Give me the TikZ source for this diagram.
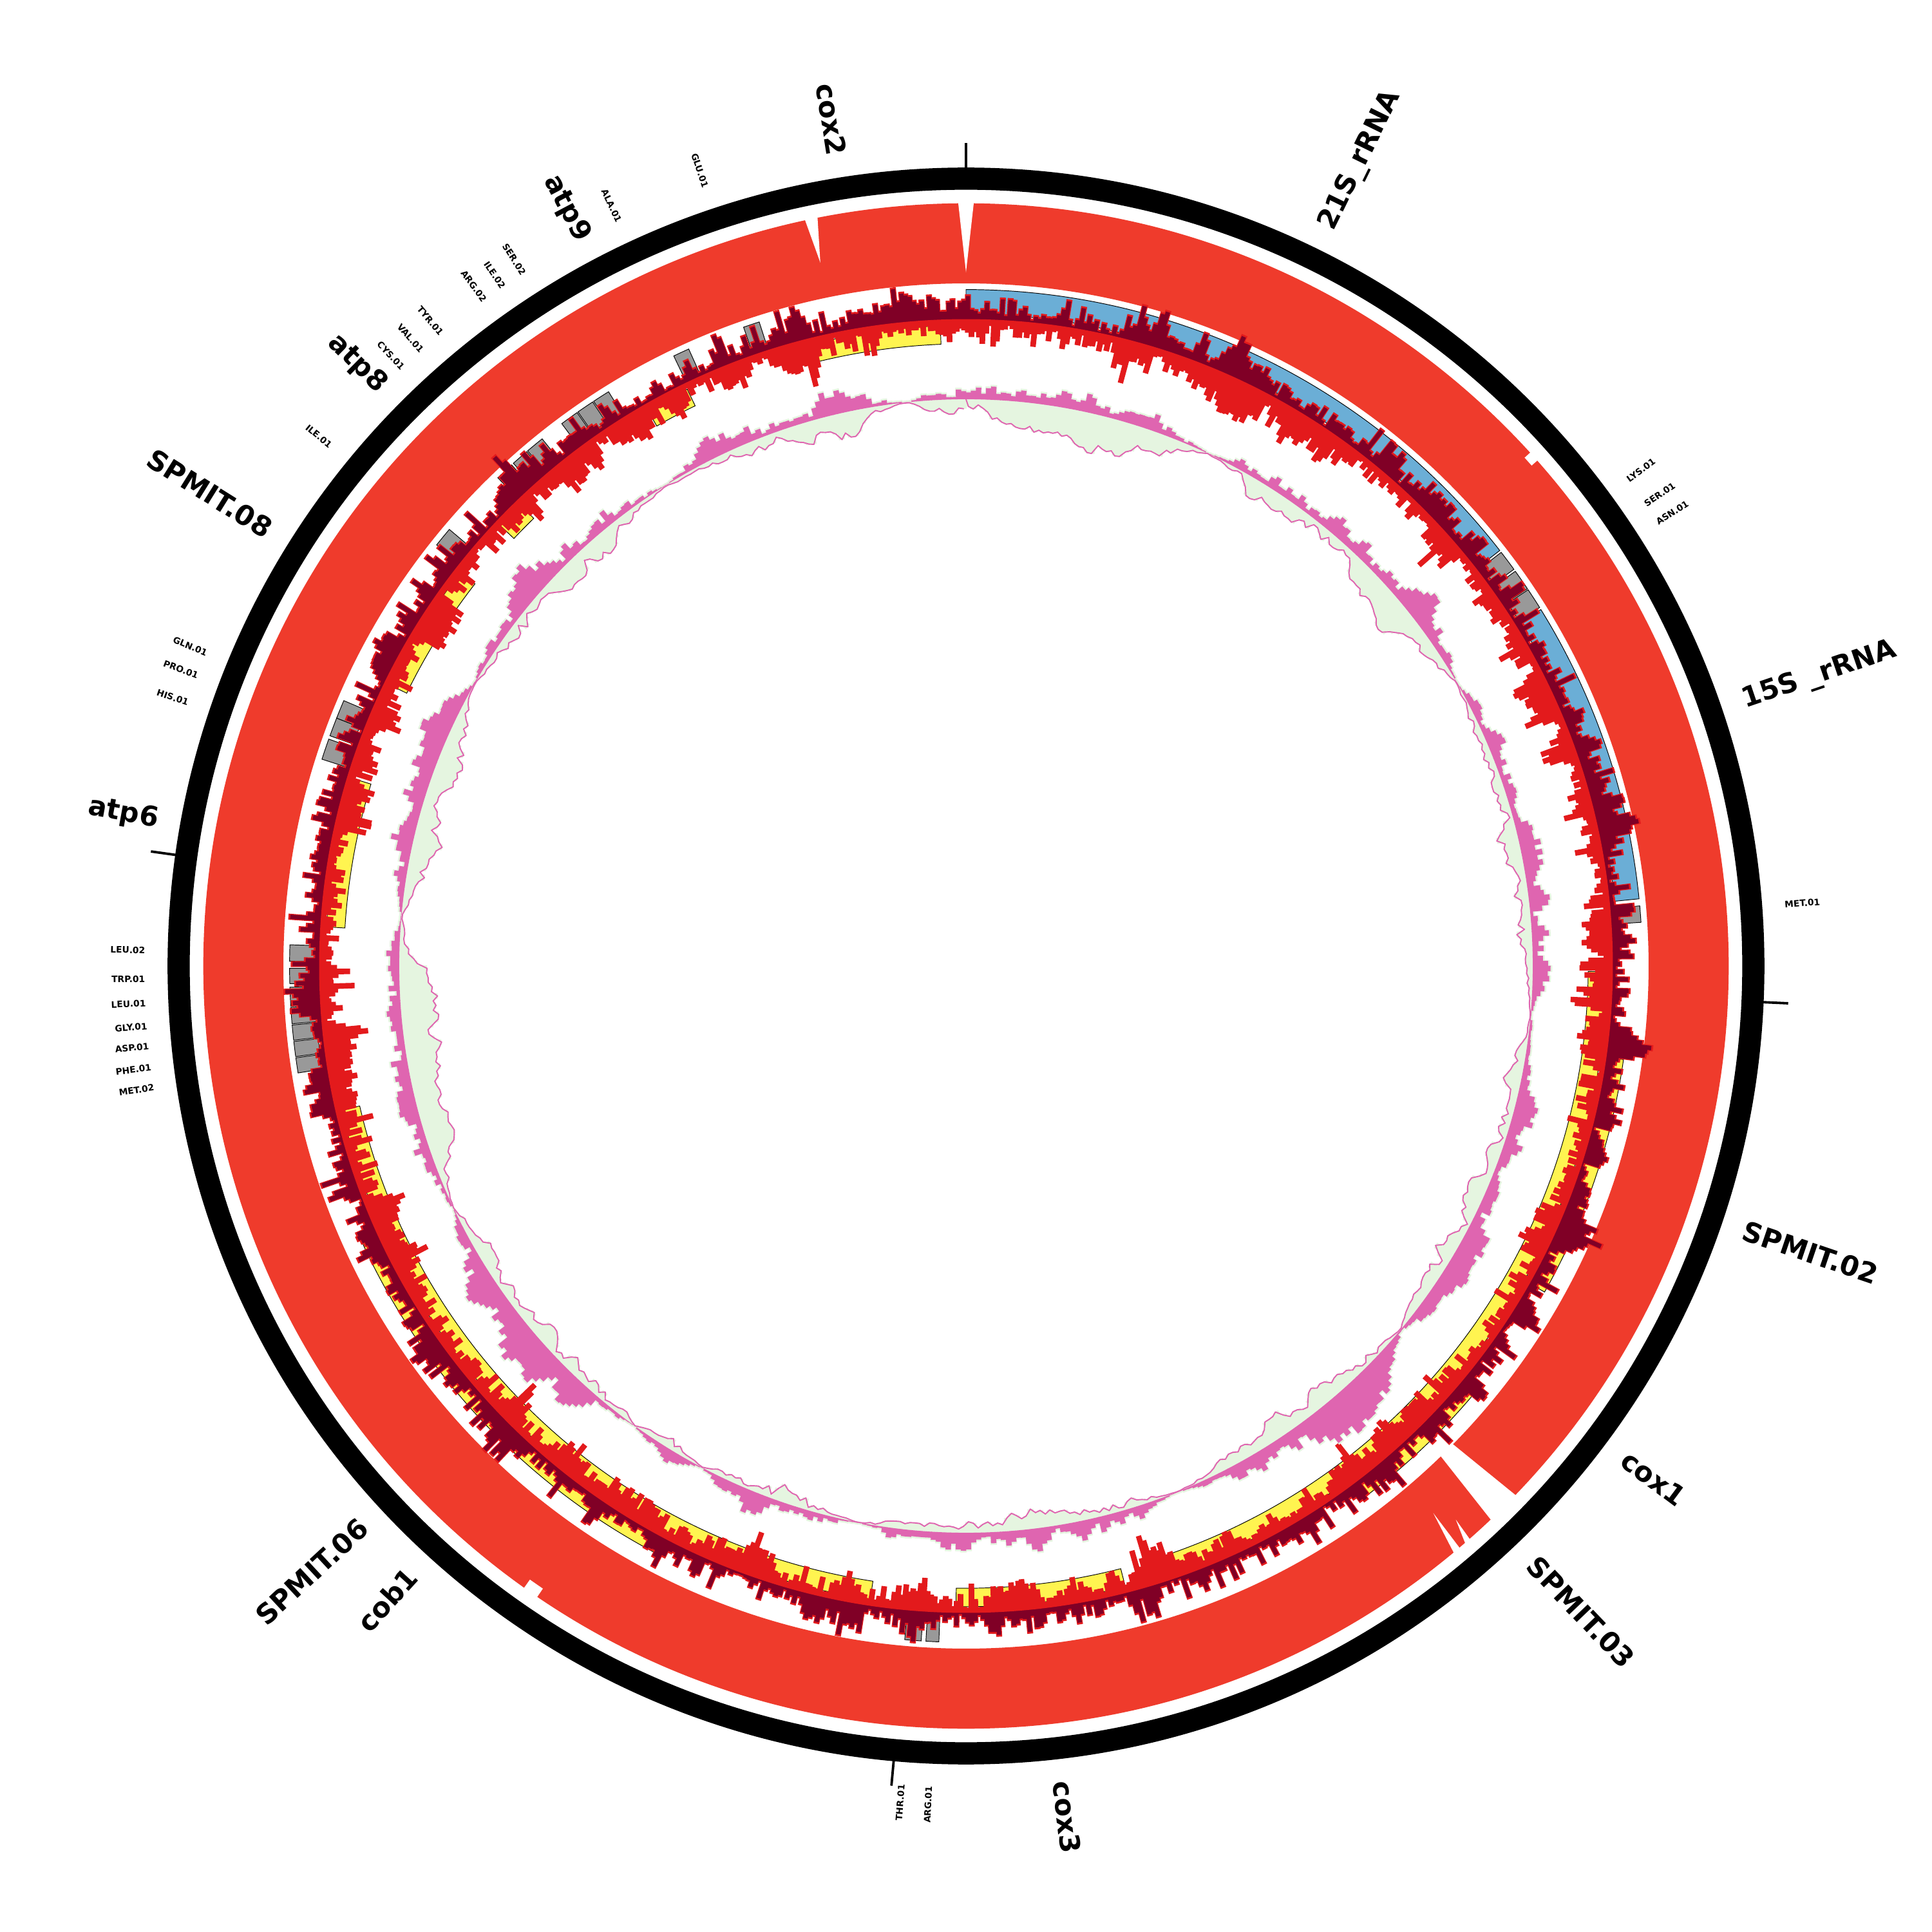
\documentclass[tikz,border=0pt]{standalone}
\usepackage{fontspec}
\setmainfont{DejaVu Sans}
\usetikzlibrary{positioning}
\definecolor{bandred}{HTML}{EF3B2C}
\definecolor{histred}{HTML}{E31A1C}
\definecolor{histdark}{HTML}{800026}
\definecolor{rrnablue}{HTML}{6BAED6}
\definecolor{cdsyellow}{HTML}{FFF450}
\definecolor{trnagray}{HTML}{999999}
\definecolor{skewpink}{HTML}{DF65B0}
\definecolor{skewgreen}{HTML}{E5F5E0}
\tikzset{
  genelabel/.style={font=\fontsize{11.2}{13}\selectfont\bfseries, inner sep=0pt},
  trnalabel/.style={font=\fontsize{3.6}{4.2}\selectfont\bfseries, inner sep=0pt},
  tilebox/.style={draw=black, line width=0.25pt},
  ticktick/.style={line width=1pt},
  skewline/.style={skewpink, line width=0.5pt, line cap=round},
}
% tile between two angles on one ring
\newcommand{\tile}[5]{%
  \filldraw[tilebox, fill=#5] (#1:#3) arc[start angle=#1, end angle=#2, radius=#3]
    -- (#2:#4) arc[start angle=#2, end angle=#1, radius=#4] -- cycle;}
% labels outside the ideogram: right half reads outward, left half inward
\newcommand{\rlab}[4]{\node[#1, anchor=west, rotate=#2] (#3) at (#2:666) {#4};}
\newcommand{\llab}[4]{\node[#1, anchor=east, rotate=#2+180] (#3) at (#2:666) {#4};}
\begin{document}
\begin{tikzpicture}[x=0.5pt, y=0.5pt]
\fill[white] (-784,-784) rectangle (784,784);
\useasboundingbox (-784,-784) rectangle (784,784);

% ideogram and ticks
\fill[black, even odd rule] (0,0) circle[radius=648] (0,0) circle[radius=630];
\foreach \a in {90,-2.6,172,-95.2}
  \draw[ticktick] (\a:647) -- (\a:668);

% outer coverage band
\fill[bandred, even odd rule] (0,0) circle[radius=619] (0,0) circle[radius=554];
\fill[white] (102.2:621) -- (101.2:621) -- (101.7:583) -- cycle;
\fill[white] (90.6:621) -- (89.4:621) -- (90:563) -- cycle;
\fill[white] (42.3:621) -- (41.5:621) -- (41.5:613) -- (42.3:613) -- cycle;
\fill[white] (-44.5:552) -- (-43.9:621) -- (-46.55:621) -- (-45.9:552) -- cycle;
\fill[white] (-48.7:621) -- (-49.2:621) -- (-48.5:600) -- cycle;
\fill[white] (-49.7:621) -- (-50.3:621) -- (-49.5:584) -- cycle;
\fill[white] (235.8:621) -- (234.6:621) -- (234.6:611) -- (235.8:611) -- cycle;

% rRNA and tRNA tiles
\tile{37.9}{90}{529}{549}{rrnablue}
\tile{5.7}{31.8}{529}{549}{rrnablue}
\foreach \a/\b in {35.9/37.7, 33.9/35.7, 32.0/33.8, 3.7/5.1, 264.8/266.2,
    266.6/267.7, 178.2/179.6, 180.2/181.5, 181.8/183.4, 183.5/184.9,
    185.0/186.3, 186.4/187.7, 187.8/189.1, 160.4/162.2, 158.5/160.1,
    156.9/158.5, 139.8/141.5, 132.2/133.8, 130.5/132.0, 128.8/130.4,
    125.1/126.7, 123.5/125.0, 121.9/123.4, 114.2/115.6, 107.8/109.2}
  {\tile{\a}{\b}{529}{549}{trnagray}}
% coding genes, two layers
\foreach \a/\b in {92.3/105.8, 115.8/119.8, 134.0/136.6, 142.1/154.0,
    163.0/176.5, 193.0/261.4, 269.1/284.4, -72.9/-0.5}
  {\tile{\a}{\b}{505}{520}{cdsyellow}}
\foreach \a/\b in {204/242, -53.4/-39, -29.4/-8.1}
  {\tile{\a}{\b}{524}{539}{cdsyellow}}

% coverage histograms: rim and inward part first
\pgfmathsetseed{4711}
\xdef\walkA{0}\xdef\walkB{0}
\foreach \i in {0,...,1079}{
  \pgfmathsetmacro\angS{90.09-\i/3}
  \pgfmathsetmacro\angE{89.577-\i/3}
  \pgfmathparse{0.9*\walkA+3.6*rand}\xdef\walkA{\pgfmathresult}
  \pgfmathparse{0.9*\walkB+3.6*rand}\xdef\walkB{\pgfmathresult}
  \pgfmathsetmacro\rA{527.5+2.3*abs(\walkA)+13*rnd^5}
  \pgfmathsetmacro\rB{521-2.2*abs(\walkB)-13*rnd^5}
  \fill[histred] (\angS:523) -- (\angS:\rA) -- (\angE:\rA) -- (\angE:523) -- cycle;
  \fill[histred] (\angS:523) -- (\angS:\rB) -- (\angE:\rB) -- (\angE:523) -- cycle;
}
% same walk again for the dark outward part
\pgfmathsetseed{4711}
\xdef\walkA{0}\xdef\walkB{0}
\foreach \i in {0,...,1079}{
  \pgfmathsetmacro\angS{90.02-\i/3}
  \pgfmathsetmacro\angE{89.647-\i/3}
  \pgfmathparse{0.9*\walkA+3.6*rand}\xdef\walkA{\pgfmathresult}
  \pgfmathparse{0.9*\walkB+3.6*rand}\xdef\walkB{\pgfmathresult}
  \pgfmathsetmacro\rA{526+2.3*abs(\walkA)+13*rnd^5}
  \pgfmathsetmacro\rB{rnd}
  \fill[histdark] (\angS:523) -- (\angS:\rA) -- (\angE:\rA) -- (\angE:523) -- cycle;
}
\fill[histred, even odd rule] (0,0) circle[radius=525] (0,0) circle[radius=521];

% skew track: green rim and inward fill
\pgfmathsetseed{271}
\xdef\walkP{0}\xdef\walkG{0}
\foreach \i in {0,...,719}{
  \pgfmathsetmacro\angM{89.75-0.5*\i}
  \pgfmathsetmacro\angS{\angM+0.32}
  \pgfmathsetmacro\angE{\angM-0.32}
  \pgfmathparse{0.94*\walkP+2.2*rand}\xdef\walkP{\pgfmathresult}
  \pgfmathparse{0.94*\walkG+2.2*rand}\xdef\walkG{\pgfmathresult}
  \pgfmathsetmacro\env{min(1,min(abs(\angM-64.7),abs(\angM-30),abs(\angM+5),abs(\angM+40),abs(\angM+68),abs(\angM+101),abs(\angM+117.9),abs(\angM+125.8),abs(\angM+154.7),abs(\angM+185),abs(\angM+210),abs(\angM+238),abs(\angM+264))/6)}
  \pgfmathsetmacro\rP{461.4+\env*(2+2.7*abs(\walkP)+3*rnd)}
  \pgfmathsetmacro\rG{460-\env*(2+2.3*abs(\walkG)+3*rnd)}
  \fill[skewgreen] (\angS:460) -- (\angS:\rP) -- (\angE:\rP) -- (\angE:460) -- cycle;
  \fill[skewgreen] (\angS:460) -- (\angS:\rG) -- (\angE:\rG) -- (\angE:460) -- cycle;
}
% pink fill and line
\pgfmathsetseed{271}
\xdef\walkP{0}\xdef\walkG{0}
\xdef\prevA{90}\xdef\prevR{460}
\foreach \i in {0,...,719}{
  \pgfmathsetmacro\angM{89.75-0.5*\i}
  \pgfmathsetmacro\angS{\angM+0.27}
  \pgfmathsetmacro\angE{\angM-0.27}
  \pgfmathparse{0.94*\walkP+2.2*rand}\xdef\walkP{\pgfmathresult}
  \pgfmathparse{0.94*\walkG+2.2*rand}\xdef\walkG{\pgfmathresult}
  \pgfmathsetmacro\env{min(1,min(abs(\angM-64.7),abs(\angM-30),abs(\angM+5),abs(\angM+40),abs(\angM+68),abs(\angM+101),abs(\angM+117.9),abs(\angM+125.8),abs(\angM+154.7),abs(\angM+185),abs(\angM+210),abs(\angM+238),abs(\angM+264))/6)}
  \pgfmathsetmacro\rP{460+\env*(2+2.7*abs(\walkP)+3*rnd)}
  \pgfmathsetmacro\rG{460-\env*(2+2.3*abs(\walkG)+3*rnd)}
  \fill[skewpink] (\angS:460) -- (\angS:\rP) -- (\angE:\rP) -- (\angE:460) -- cycle;
  \draw[skewline] (\prevA:\prevR) -- (\angM:\rG);
  \xdef\prevA{\angM}\xdef\prevR{\rG}
}

% gene labels
\rlab{genelabel}{63.9}{l21s}{21S\_rRNA}
\rlab{genelabel}{18.8}{l15s}{15S \_rRNA}
\rlab{genelabel}{-18.75}{lspmitb}{SPMIT.02}
\rlab{genelabel}{-36.7}{lcoxa}{cox1}
\rlab{genelabel}{-46.4}{lspmitc}{SPMIT.03}
\rlab{genelabel}{-83.25}{lcoxc}{cox3}
\llab{genelabel}{227.6}{lcob}{cob1}
\llab{genelabel}{222.8}{lspmitf}{SPMIT.06}
\llab{genelabel}{169.75}{latpf}{atp6}
\llab{genelabel}{148}{lspmith}{SPMIT.08}
\llab{genelabel}{135.3}{latph}{atp8}
\llab{genelabel}{117.8}{latpi}{atp9}
\llab{genelabel}{99.05}{lcoxb}{cox2}
% tRNA labels
\rlab{trnalabel}{36.3}{tlys}{LYS.01}
\rlab{trnalabel}{34.2}{tsera}{SER.01}
\rlab{trnalabel}{32.7}{tasn}{ASN.01}
\rlab{trnalabel}{4.3}{tmeta}{MET.01}
\llab{trnalabel}{265.5}{tthr}{THR.01}
\llab{trnalabel}{267.4}{targa}{ARG.01}
\llab{trnalabel}{178.9}{tleub}{LEU.02}
\llab{trnalabel}{180.9}{ttrp}{TRP.01}
\llab{trnalabel}{182.6}{tleua}{LEU.01}
\llab{trnalabel}{184.2}{tgly}{GLY.01}
\llab{trnalabel}{185.6}{tasp}{ASP.01}
\llab{trnalabel}{187.1}{tphe}{PHE.01}
\llab{trnalabel}{188.5}{tmetb}{MET.02}
\llab{trnalabel}{161.3}{this}{HIS.01}
\llab{trnalabel}{159.3}{tpro}{PRO.01}
\llab{trnalabel}{157.6}{tgln}{GLN.01}
\llab{trnalabel}{140.7}{tilea}{ILE.01}
\llab{trnalabel}{133.3}{tcys}{CYS.01}
\llab{trnalabel}{131.5}{tval}{VAL.01}
\llab{trnalabel}{129.7}{ttyr}{TYR.01}
\llab{trnalabel}{125.9}{targb}{ARG.02}
\llab{trnalabel}{124.3}{tileb}{ILE.02}
\llab{trnalabel}{122.6}{tserb}{SER.02}
\llab{trnalabel}{115.0}{tala}{ALA.01}
\llab{trnalabel}{108.5}{tglu}{GLU.01}
\end{tikzpicture}
\end{document}
